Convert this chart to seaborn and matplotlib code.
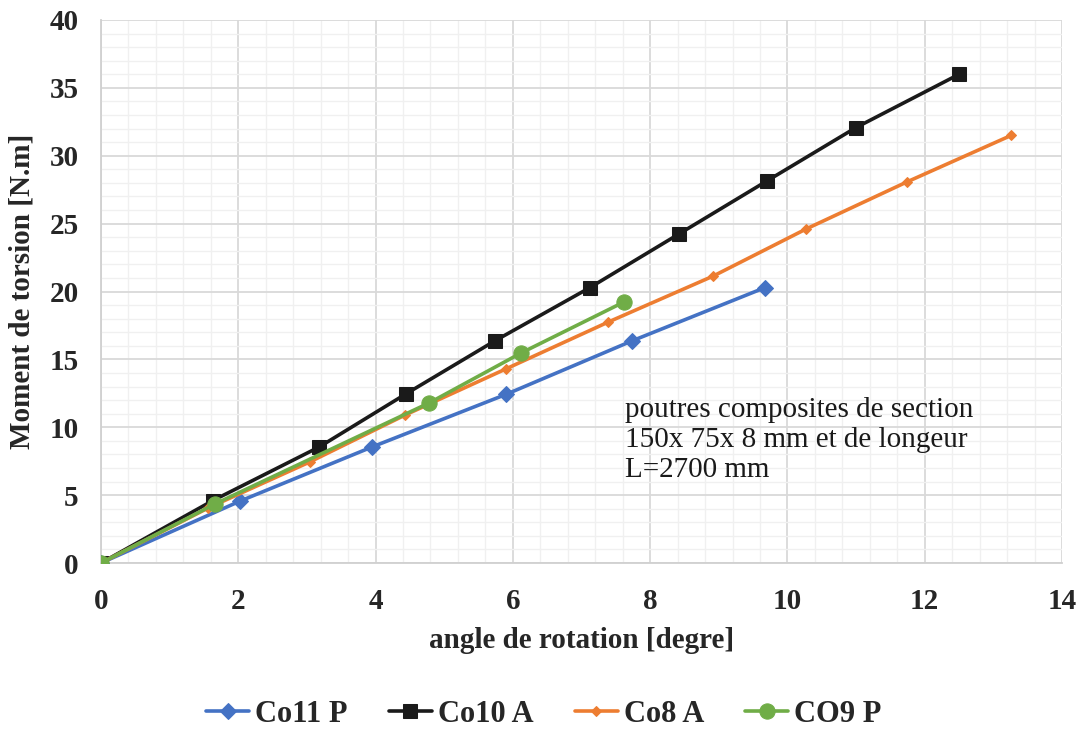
import numpy as np
import pandas as pd
import matplotlib
matplotlib.use("Agg")
import matplotlib.pyplot as plt
from matplotlib.ticker import MultipleLocator
import seaborn as sns

# --------------------------
# Donnees
# --------------------------
co11_x = [0, 2.03, 3.95, 5.90, 7.74, 9.67]
co11_y = [0, 4.57, 8.55, 12.42, 16.37, 20.28]

co10_x = [0, 1.63, 3.18, 4.44, 5.74, 7.12, 8.42, 9.70, 11.00, 12.50]
co10_y = [0, 4.60, 8.55, 12.45, 16.37, 20.28, 24.24, 28.14, 32.08, 36.00]

co8_x = [0, 1.56, 3.04, 4.43, 5.90, 7.39, 8.92, 10.27, 11.74, 13.26]
co8_y = [0, 4.05, 7.44, 10.90, 14.30, 17.75, 21.14, 24.60, 28.07, 31.50]

co9_x = [0, 1.66, 4.78, 6.12, 7.62]
co9_y = [0, 4.35, 11.79, 15.47, 19.23]

series = ["Co11 P", "Co10 A", "Co8 A", "CO9 P"]
colors = ["#4472C4", "#1A1A1A", "#ED7D31", "#70AD47"]
markers = ["D", "s", "D", "o"]
msizes = [8, 9.5, 5.5, 11]

df = pd.concat([
    pd.DataFrame({"angle": co11_x, "moment": co11_y, "serie": series[0]}),
    pd.DataFrame({"angle": co10_x, "moment": co10_y, "serie": series[1]}),
    pd.DataFrame({"angle": co8_x, "moment": co8_y, "serie": series[2]}),
    pd.DataFrame({"angle": co9_x, "moment": co9_y, "serie": series[3]}),
], ignore_index=True)

# --------------------------
# Style
# --------------------------
sns.set_style("white")
plt.rcParams["font.family"] = ["Liberation Serif", "DejaVu Serif"]

fig = plt.figure(figsize=(10.85, 7.31), dpi=100)
ax = fig.add_axes([101 / 1085, 1 - 563 / 731, (1062 - 101) / 1085, (563 - 20) / 731])

for name, c, m, ms in zip(series, colors, markers, msizes):
    sub = df[df["serie"] == name]
    sns.lineplot(data=sub, x="angle", y="moment", ax=ax, color=c, marker=m,
                 markersize=ms, markeredgecolor=c, linewidth=2.6, label=name,
                 sort=False, estimator=None, zorder=3)

ax.set_xlim(0, 14)
ax.set_ylim(0, 40)
ax.xaxis.set_major_locator(MultipleLocator(2))
ax.xaxis.set_minor_locator(MultipleLocator(0.4))
ax.yaxis.set_major_locator(MultipleLocator(5))
ax.yaxis.set_minor_locator(MultipleLocator(1))
ax.grid(which="major", color="#D9D9D9", linewidth=1.3, zorder=0)
ax.grid(which="minor", color="#F0F0F0", linewidth=1.0, zorder=0)
ax.set_axisbelow(True)

for s in ["top", "right"]:
    ax.spines[s].set_visible(False)
for s in ["left", "bottom"]:
    ax.spines[s].set_color("#D0D0D0")
    ax.spines[s].set_linewidth(1.3)

ax.tick_params(axis="both", which="major", length=7, width=1.3, color="#D0D0D0",
               labelsize=21)
ax.tick_params(axis="x", which="major", pad=11)
ax.tick_params(axis="y", which="major", pad=9)
ax.tick_params(axis="both", which="minor", length=0)
for lbl in ax.get_xticklabels() + ax.get_yticklabels():
    lbl.set_fontweight("bold")

ax.set_xlabel("angle de rotation [degre]", fontsize=21, fontweight="bold", labelpad=9)
ax.set_ylabel("Moment de torsion [N.m]", fontsize=21, fontweight="bold", labelpad=10)

ax.text(7.63, 12.2, "poutres composites de section\n150x 75x 8 mm et de longeur\nL=2700 mm",
        fontsize=21, va="top", ha="left", color="#1A1A1A", linespacing=1.18)

ax.legend_.remove()
handles, labels = ax.get_legend_handles_labels()
leg = fig.legend(handles, labels, loc="center", bbox_to_anchor=(544 / 1085, 1 - 714 / 731),
                 ncol=4, frameon=False, fontsize=22, handlelength=1.4,
                 columnspacing=1.35, handletextpad=0.2)
for t in leg.get_texts():
    t.set_fontweight("bold")

fig.savefig("out.png", dpi=100)
